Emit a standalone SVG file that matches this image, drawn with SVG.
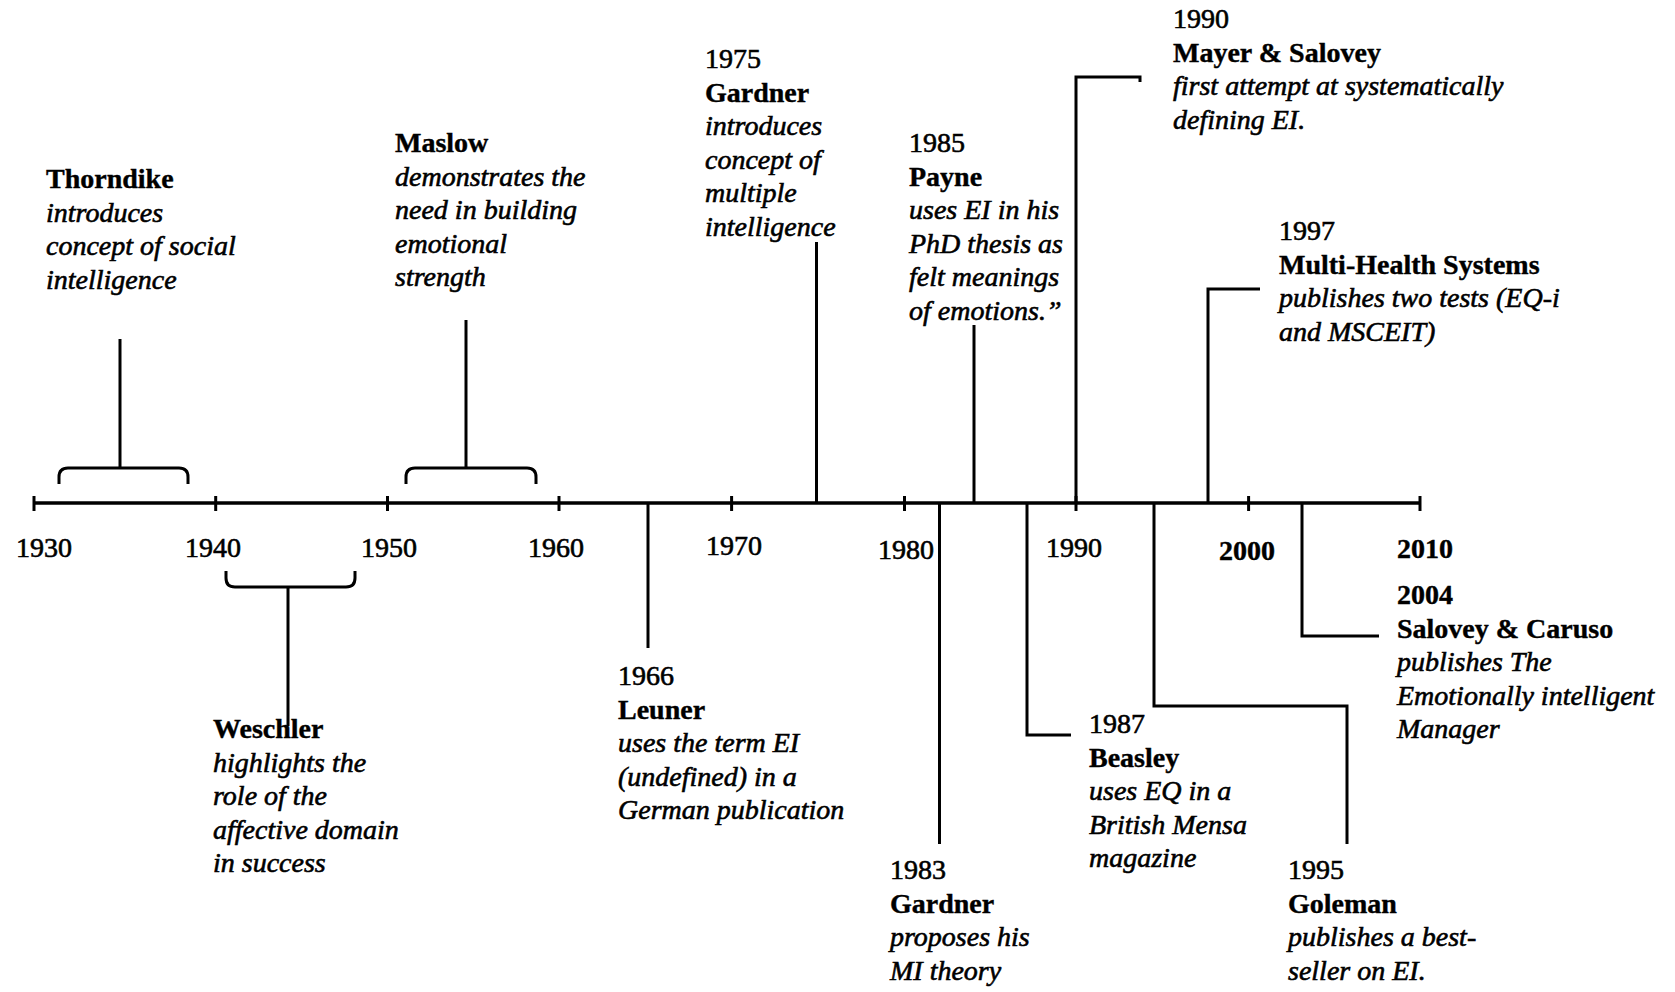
<svg xmlns="http://www.w3.org/2000/svg" width="1675" height="992" viewBox="0 0 1675 992">
  <style>
    text { font-family: "Liberation Serif", "Times New Roman", serif; font-size: 28px; fill: #000; stroke: #000; stroke-width: 0.6px; }
    .nm { font-weight: bold; stroke-width: 0.4px; }
    .ds { font-style: italic; }
    .axb { font-weight: bold; stroke-width: 0.4px; }
    .ln { stroke: #000; stroke-width: 3; fill: none; }
    .axis { stroke: #000; stroke-width: 3.5; fill: none; }
    .tick { stroke: #000; stroke-width: 3; }
  </style>
  <rect width="1675" height="992" fill="#fff"/>

  <!-- timeline axis, decade ticks, brackets and leader lines -->
  <g id="connectors">
    <path class="axis" d="M34 503 H1420"/>
    <g class="tick">
      <line x1="34" y1="496" x2="34" y2="511"/>
      <line x1="215.7" y1="496" x2="215.7" y2="511"/>
      <line x1="387.5" y1="496" x2="387.5" y2="511"/>
      <line x1="559" y1="496" x2="559" y2="511"/>
      <line x1="731.6" y1="496" x2="731.6" y2="511"/>
      <line x1="904.5" y1="496" x2="904.5" y2="511"/>
      <line x1="1076" y1="496" x2="1076" y2="511"/>
      <line x1="1248.6" y1="496" x2="1248.6" y2="511"/>
      <line x1="1420" y1="496" x2="1420" y2="511"/>
    </g>
    <!-- Thorndike span -->
    <path class="ln" d="M59 484 V477 Q59 468 68 468 H179 Q188 468 188 477 V484"/>
    <path class="ln" d="M120 339 V468"/>
    <!-- Maslow span -->
    <path class="ln" d="M406 484 V477 Q406 468 415 468 H527 Q536 468 536 477 V484"/>
    <path class="ln" d="M466 320 V468"/>
    <!-- Weschler span -->
    <path class="ln" d="M226 571 V578 Q226 587 235 587 H346 Q355 587 355 578 V571"/>
    <path class="ln" d="M288 587 V726"/>
    <!-- single-year events -->
    <path class="ln" d="M648 503 V648"/>
    <path class="ln" d="M816.5 242 V503"/>
    <path class="ln" d="M939.5 503 V844"/>
    <path class="ln" d="M974 325 V503"/>
    <path class="ln" d="M1027 503 V735 H1071"/>
    <path class="ln" d="M1076 503 V77 H1140 V82"/>
    <path class="ln" d="M1154 503 V706 H1347 V844"/>
    <path class="ln" d="M1208 503 V289 H1260"/>
    <path class="ln" d="M1302 503 V636 H1379"/>
  </g>

  <!-- decade labels -->
  <g id="axis-labels">
    <text x="16" y="557">1930</text>
    <text x="185" y="557">1940</text>
    <text x="361" y="557">1950</text>
    <text x="528" y="557">1960</text>
    <text x="706" y="555">1970</text>
    <text x="878" y="559">1980</text>
    <text x="1046" y="557">1990</text>
    <text class="axb" x="1219" y="560">2000</text>
    <text class="axb" x="1397" y="558">2010</text>
  </g>

  <g id="thorndike">
    <text class="nm" x="46" y="188">Thorndike</text>
    <text class="ds" x="46" y="221.5">introduces</text>
    <text class="ds" x="46" y="255">concept of social</text>
    <text class="ds" x="46" y="288.5">intelligence</text>
  </g>

  <g id="maslow">
    <text class="nm" x="395" y="152">Maslow</text>
    <text class="ds" x="395" y="185.5">demonstrates the</text>
    <text class="ds" x="395" y="219">need in building</text>
    <text class="ds" x="395" y="252.5">emotional</text>
    <text class="ds" x="395" y="286">strength</text>
  </g>

  <g id="weschler">
    <text class="nm" x="213" y="738">Weschler</text>
    <text class="ds" x="213" y="771.5">highlights the</text>
    <text class="ds" x="213" y="805">role of the</text>
    <text class="ds" x="213" y="838.5">affective domain</text>
    <text class="ds" x="213" y="872">in success</text>
  </g>

  <g id="gardner-1975">
    <text x="705" y="68">1975</text>
    <text class="nm" x="705" y="101.5">Gardner</text>
    <text class="ds" x="705" y="135">introduces</text>
    <text class="ds" x="705" y="168.5">concept of</text>
    <text class="ds" x="705" y="202">multiple</text>
    <text class="ds" x="705" y="235.5">intelligence</text>
  </g>

  <g id="leuner-1966">
    <text x="618" y="685">1966</text>
    <text class="nm" x="618" y="718.5">Leuner</text>
    <text class="ds" x="618" y="752">uses the term EI</text>
    <text class="ds" x="618" y="785.5">(undefined) in a</text>
    <text class="ds" x="618" y="819">German publication</text>
  </g>

  <g id="gardner-1983">
    <text x="890" y="879">1983</text>
    <text class="nm" x="890" y="912.5">Gardner</text>
    <text class="ds" x="890" y="946">proposes his</text>
    <text class="ds" x="890" y="979.5">MI theory</text>
  </g>

  <g id="payne-1985">
    <text x="909" y="152">1985</text>
    <text class="nm" x="909" y="185.5">Payne</text>
    <text class="ds" x="909" y="219">uses EI in his</text>
    <text class="ds" x="909" y="252.5">PhD thesis as</text>
    <text class="ds" x="909" y="286">felt meanings</text>
    <text class="ds" x="909" y="319.5">of emotions.”</text>
  </g>

  <g id="mayer-salovey-1990">
    <text x="1173" y="28">1990</text>
    <text class="nm" x="1173" y="61.5">Mayer &amp; Salovey</text>
    <text class="ds" x="1173" y="95">first attempt at systematically</text>
    <text class="ds" x="1173" y="128.5">defining EI.</text>
  </g>

  <g id="beasley-1987">
    <text x="1089" y="733">1987</text>
    <text class="nm" x="1089" y="766.5">Beasley</text>
    <text class="ds" x="1089" y="800">uses EQ in a</text>
    <text class="ds" x="1089" y="833.5">British Mensa</text>
    <text class="ds" x="1089" y="867">magazine</text>
  </g>

  <g id="mhs-1997">
    <text x="1279" y="240">1997</text>
    <text class="nm" x="1279" y="273.5">Multi-Health Systems</text>
    <text class="ds" x="1279" y="307">publishes two tests (EQ-i</text>
    <text class="ds" x="1279" y="340.5">and MSCEIT)</text>
  </g>

  <g id="goleman-1995">
    <text x="1288" y="879">1995</text>
    <text class="nm" x="1288" y="912.5">Goleman</text>
    <text class="ds" x="1288" y="946">publishes a best-</text>
    <text class="ds" x="1288" y="979.5">seller on EI.</text>
  </g>

  <g id="salovey-caruso-2004">
    <text class="nm" x="1397" y="604">2004</text>
    <text class="nm" x="1397" y="637.5">Salovey &amp; Caruso</text>
    <text class="ds" x="1397" y="671">publishes The</text>
    <text class="ds" x="1397" y="704.5">Emotionally intelligent</text>
    <text class="ds" x="1397" y="738">Manager</text>
  </g>
</svg>
